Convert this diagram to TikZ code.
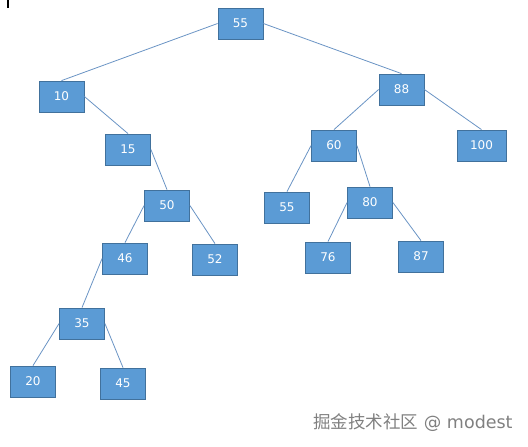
\documentclass[tikz,border=0pt]{standalone}
\usepackage{fontspec}
\setmainfont{DejaVu Sans}
\newfontfamily\cjkfont{Noto Sans CJK SC}
\usepackage{tikz}
\definecolor{TreeBoxFill}{RGB}{91,155,213}
\definecolor{TreeBoxDraw}{RGB}{65,113,156}
\definecolor{TreeEdge}{RGB}{106,148,196}
\definecolor{MarkGray}{RGB}{128,128,128}

\begin{document}
\begin{tikzpicture}[x=1pt,y=1pt,
  key/.style={rectangle,draw=TreeBoxDraw,fill=TreeBoxFill,text=white,line width=0.8pt,
    minimum width=#1pt,minimum height=31pt,inner sep=0pt,font=\fontsize{12}{14}\selectfont},
  key/.default=45,
  edge/.style={TreeEdge,line width=0.8pt}]
\useasboundingbox (0,0) rectangle (528,-447);
\draw[black,line width=1.2pt] (8,0) -- (8,-8);
% left subtree
\node[key](n55) at (240.5,-23.5) {55};
\node[key](n10) at (61.5,-96.5) {10};
\node[key](n15) at (128,-149.5) {15};
\node[key](n50) at (167,-205.5) {50};
\node[key](n46) at (125,-258.5) {46};
\node[key](n52) at (215,-259.5) {52};
\node[key](n35) at (82,-323.5) {35};
\node[key](n20) at (33,-381.5) {20};
\node[key](n45) at (123,-383.5) {45};
% right subtree
\node[key](n88) at (401.5,-89.5) {88};
\node[key](n60) at (334,-145.5) {60};
\node[key=49](n100) at (481.5,-145.5) {100};
\node[key](m55) at (287,-207.5) {55};
\node[key](n80) at (370,-202.5) {80};
\node[key](n76) at (328,-257.5) {76};
\node[key](n87) at (421,-256.5) {87};
\foreach \p/\s/\c in %
{n55/west/n10,n55/east/n88,n10/east/n15,n15/east/n50,n50/west/n46,n50/east/n52,
 n46/west/n35,n35/west/n20,n35/east/n45,n88/west/n60,n88/east/n100,
 n60/west/m55,n60/east/n80,n80/west/n76,n80/east/n87} {
   \draw[edge] (\p.\s) -- (\c.north);
}
\node[text=MarkGray,font=\fontsize{17.5}{20}\selectfont,inner sep=0pt](mark) at (413,-423)
   {{\cjkfont 掘金技术社区} @ modest};
\end{tikzpicture}
\end{document}
